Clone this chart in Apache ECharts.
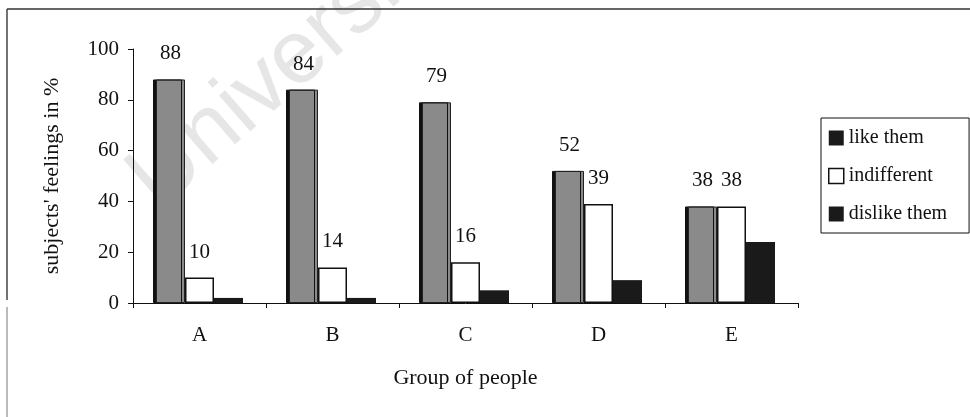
<!DOCTYPE html>
<html>
<head>
<meta charset="utf-8">
<script src="https://cdn.jsdelivr.net/npm/echarts@6/dist/echarts.min.js"></script>
<style>
html,body{margin:0;padding:0;background:#fff;}
#chart{width:970px;height:417px;}
</style>
</head>
<body>
<div id="chart"></div>
<script>
const categories = ['A', 'B', 'C', 'D', 'E'];
const seriesNames = ['like them', 'indifferent', 'dislike them'];
const likeThem = [88, 84, 79, 52, 38];
const indifferent = [10, 14, 16, 39, 38];
const dislikeThem = [2, 2, 5, 9, 24];
const yTicks = [0, 20, 40, 60, 80, 100];

const FONT = '"Liberation Serif", "Times New Roman", serif';
const chart = echarts.init(document.getElementById('chart'), null, {renderer: 'canvas'});

const labelStyle = {
  show: true, position: 'top', distance: 15,
  color: '#111', fontFamily: FONT, fontSize: 21
};

const option = {
  backgroundColor: '#fff',
  animation: false,
  grid: {left: 133, right: 172, top: 49, bottom: 114, containLabel: false},
  legend: {
    orient: 'vertical',
    left: 821, top: 118,
    padding: [10, 22, 9, 7],
    itemWidth: 15, itemHeight: 15,
    itemGap: 18, itemTextGap: 7,
    borderColor: '#111', borderWidth: 1,
    backgroundColor: '#fff',
    textStyle: {fontFamily: FONT, fontSize: 20, color: '#111'},
    data: [
      {name: seriesNames[0], icon: 'rect', itemStyle: {color: '#1a1a1a', borderWidth: 0, shadowBlur: 0, shadowOffsetX: 0}},
      {name: seriesNames[1], icon: 'rect', itemStyle: {color: '#fff', borderColor: '#111', borderWidth: 1.5}},
      {name: seriesNames[2], icon: 'rect', itemStyle: {color: '#1a1a1a', borderWidth: 0}}
    ]
  },
  xAxis: {
    type: 'category',
    data: categories,
    name: 'Group of people',
    nameLocation: 'middle',
    nameGap: 64,
    nameTextStyle: {fontFamily: FONT, fontSize: 22, color: '#111'},
    axisLine: {show: true, lineStyle: {color: '#111', width: 1}},
    axisTick: {show: true, length: 5, alignWithLabel: false, lineStyle: {color: '#111'}},
    axisLabel: {fontFamily: FONT, fontSize: 21, color: '#111', margin: 22},
    splitLine: {show: false}
  },
  yAxis: {
    type: 'value',
    min: yTicks[0], max: yTicks[yTicks.length - 1], interval: yTicks[1] - yTicks[0],
    name: "subjects' feelings in %",
    nameLocation: 'middle',
    nameGap: 70,
    nameTextStyle: {fontFamily: FONT, fontSize: 22, color: '#111'},
    axisLine: {show: true, lineStyle: {color: '#111', width: 1}},
    axisTick: {show: true, length: 5, lineStyle: {color: '#111'}},
    axisLabel: {fontFamily: FONT, fontSize: 21, color: '#111', margin: 14},
    splitLine: {show: false}
  },
  graphic: [
    {type: 'text', z: -10, rotation: 41 * Math.PI / 180,
     x: 113, y: 158,
     style: {text: 'University', fill: '#e6e6e6', font: '90px "Liberation Sans", Arial, sans-serif'}},
    {type: 'line', z: 10, shape: {x1: 7, y1: 9, x2: 970, y2: 9}, style: {stroke: '#333', lineWidth: 1.5}},
    {type: 'line', z: 10, shape: {x1: 7, y1: 9, x2: 7, y2: 300}, style: {stroke: '#444', lineWidth: 1.5}},
    {type: 'line', z: 10, shape: {x1: 7, y1: 307, x2: 7, y2: 417}, style: {stroke: '#777', lineWidth: 1}}
  ],
  series: [
    {
      name: seriesNames[0], type: 'bar', data: likeThem,
      barWidth: 29, barGap: '0%',
      itemStyle: {color: '#8a8a8a', borderColor: '#222', borderWidth: 1,
                  shadowColor: '#111', shadowOffsetX: -3, shadowOffsetY: 0, shadowBlur: 0},
      label: labelStyle
    },
    {
      name: seriesNames[1], type: 'bar', data: indifferent,
      barWidth: 29, barGap: '0%',
      itemStyle: {color: '#fff', borderColor: '#111', borderWidth: 1.5},
      label: labelStyle
    },
    {
      name: seriesNames[2], type: 'bar', data: dislikeThem,
      barWidth: 29, barGap: '0%',
      itemStyle: {color: '#1a1a1a'}
    }
  ]
};
chart.setOption(option);
</script>
</body>
</html>
